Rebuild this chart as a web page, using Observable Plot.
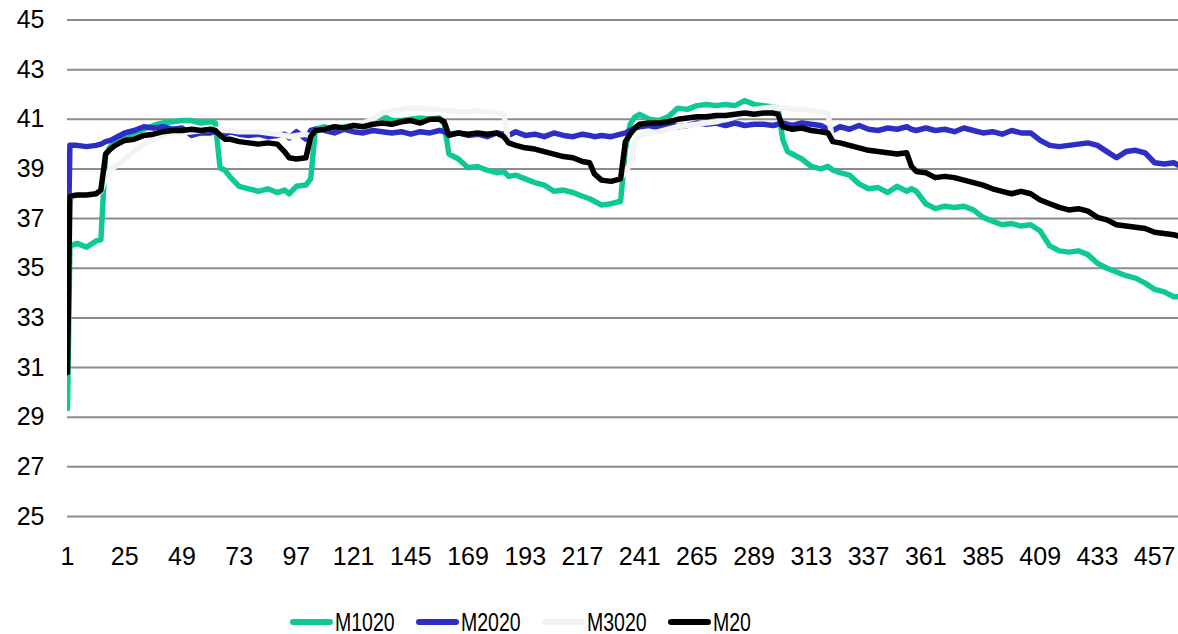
<!DOCTYPE html>
<html>
<head>
<meta charset="utf-8">
<script src="https://cdn.jsdelivr.net/npm/d3@7"></script>
<script src="https://cdn.jsdelivr.net/npm/@observablehq/plot@0.6"></script>
<style>
  body { margin: 0; background: #fff; font-family: "Liberation Sans", Arial, sans-serif; }
  #legend { display: flex; align-items: center; height: 30px; margin-top: 27px; padding-left: 290px; }
  .item { display: flex; align-items: center; margin-right: 21px; }
  .sw { width: 43px; height: 6px; border-radius: 3px; margin-right: 2px; }
  .lab { width: 60px; font-size: 25px; color: #000; white-space: nowrap; }
  .lab span { display: inline-block; transform: scaleX(0.78); transform-origin: left center; }
</style>
</head>
<body>
<div id="chart"></div>
<div id="legend"></div>
<script>
// Sample index (day) shared by all series
const days = [
  1, 2, 5, 9, 13, 15, 17, 19, 21, 25,
  29, 33, 37, 41, 45, 49, 53, 57, 61, 63,
  65, 67, 69, 73, 77, 81, 85, 89, 92, 94,
  97, 101, 103, 105, 109, 113, 117, 121, 125, 129,
  133, 137, 141, 145, 149, 153, 157, 159, 161, 165,
  169, 173, 177, 181, 184, 186, 189, 193, 197, 201,
  205, 209, 213, 217, 220, 222, 225, 229, 233, 235,
  237, 239, 241, 245, 249, 253, 257, 261, 265, 269,
  273, 277, 281, 285, 289, 293, 297, 299, 301, 303,
  305, 309, 313, 317, 320, 322, 325, 329, 333, 337,
  341, 345, 349, 353, 355, 357, 361, 365, 369, 373,
  377, 381, 385, 389, 393, 397, 401, 405, 409, 413,
  417, 421, 425, 429, 433, 437, 441, 445, 449, 453,
  457, 461, 465, 467
];

const m1020 = [
  29.35, 35.9, 36.0, 35.85, 36.1, 36.15, 39.6, 39.9, 40.05, 40.3,
  40.45, 40.6, 40.75, 40.85, 40.9, 40.95, 40.95, 40.85, 40.9, 40.85,
  39.05, 38.95, 38.7, 38.3, 38.2, 38.1, 38.2, 38.05, 38.15, 38.0,
  38.3, 38.35, 38.6, 40.6, 40.7, 40.55, 40.7, 40.75, 40.8, 41.0,
  41.15, 40.95, 40.95, 41.0, 41.05, 41.0, 41.05, 40.8, 39.6, 39.4,
  39.05, 39.1, 38.95, 38.85, 38.9, 38.7, 38.75, 38.6, 38.45, 38.35,
  38.1, 38.15, 38.05, 37.9, 37.8, 37.7, 37.55, 37.6, 37.7, 39.8,
  40.8, 41.1, 41.2, 41.0, 40.95, 41.1, 41.45, 41.4, 41.55, 41.6,
  41.55, 41.6, 41.55, 41.75, 41.6, 41.55, 41.5, 41.45, 40.2, 39.7,
  39.6, 39.4, 39.1, 39.0, 39.1, 38.95, 38.85, 38.75, 38.4, 38.2,
  38.25, 38.05, 38.3, 38.1, 38.2, 38.1, 37.6, 37.4, 37.5, 37.45,
  37.5, 37.35, 37.05, 36.9, 36.75, 36.8, 36.7, 36.75, 36.5, 35.9,
  35.7, 35.65, 35.7, 35.55, 35.2, 35.0, 34.85, 34.7, 34.6, 34.4,
  34.15, 34.05, 33.85, 33.85
];

const m2020 = [
  34.0, 39.95, 39.95, 39.9, 39.95, 40.0, 40.1, 40.15, 40.25, 40.45,
  40.55, 40.7, 40.65, 40.7, 40.6, 40.65, 40.35, 40.45, 40.45, 40.5,
  40.45, 40.4, 40.5, 40.4, 40.35, 40.4, 40.3, 40.35, 40.4, 40.25,
  40.5, 40.2, 40.55, 40.6, 40.55, 40.45, 40.6, 40.5, 40.45, 40.55,
  40.5, 40.45, 40.5, 40.4, 40.5, 40.45, 40.55, 40.5, 40.4, 40.45,
  40.35, 40.4, 40.3, 40.45, 40.4, 40.35, 40.5, 40.35, 40.4, 40.3,
  40.45, 40.35, 40.3, 40.4, 40.35, 40.3, 40.35, 40.3, 40.4, 40.45,
  40.55, 40.65, 40.7, 40.75, 40.65, 40.8, 40.7, 40.75, 40.85, 40.8,
  40.85, 40.75, 40.85, 40.75, 40.8, 40.8, 40.75, 40.8, 40.85, 40.8,
  40.75, 40.85, 40.8, 40.75, 40.6, 40.55, 40.7, 40.6, 40.75, 40.6,
  40.55, 40.65, 40.6, 40.7, 40.6, 40.55, 40.65, 40.55, 40.6, 40.5,
  40.65, 40.55, 40.45, 40.5, 40.4, 40.55, 40.45, 40.45, 40.15, 39.95,
  39.9, 39.95, 40.0, 40.05, 39.95, 39.7, 39.45, 39.7, 39.75, 39.65,
  39.25, 39.2, 39.25, 39.15
];

const m3020 = [
  33.0, 37.9, 37.95, 37.95, 38.0, 38.1, 38.6, 39.0, 39.1, 39.4,
  39.7, 40.0, 40.2, 40.35, 40.45, 40.45, 40.5, 40.55, 40.6, 40.6,
  40.6, 40.55, 40.55, 40.5, 40.5, 40.5, 40.45, 40.4, 40.35, 40.3,
  40.35, 40.4, 40.3, 40.55, 40.6, 40.7, 40.65, 40.75, 40.85, 41.0,
  41.25, 41.35, 41.4, 41.45, 41.45, 41.4, 41.4, 41.35, 41.35, 41.3,
  41.3, 41.35, 41.3, 41.25, 41.2, 40.05, 39.95, 39.85, 39.8, 39.7,
  39.6, 39.5, 39.45, 39.3, 39.25, 38.8, 38.55, 38.5, 38.6, 38.9,
  39.2, 40.1, 40.35, 40.45, 40.5, 40.6, 40.7, 40.75, 40.8, 40.85,
  40.9, 41.0, 41.1, 41.25, 41.4, 41.45, 41.5, 41.45, 41.45, 41.45,
  41.4, 41.4, 41.35, 41.3, 41.25, 40.1, 40.05, 39.95, 39.85, 39.75,
  39.7, 39.65, 39.6, 39.65, 39.1, 38.9, 38.85, 38.65, 38.7, 38.65,
  38.55, 38.45, 38.35, 38.2, 38.1, 38.0, 38.1, 38.0, 37.75, 37.6,
  37.45, 37.35, 37.4, 37.3, 37.05, 36.95, 36.75, 36.7, 36.65, 36.6,
  36.45, 36.4, 36.35, 36.3
];

const m20 = [
  30.8, 37.9, 37.95, 37.95, 38.0, 38.15, 39.6, 39.8, 39.95, 40.15,
  40.2, 40.35, 40.4, 40.5, 40.55, 40.55, 40.6, 40.55, 40.6, 40.55,
  40.35, 40.2, 40.2, 40.1, 40.05, 40.0, 40.05, 40.0, 39.7, 39.45,
  39.4, 39.45, 40.3, 40.55, 40.6, 40.7, 40.65, 40.75, 40.7, 40.8,
  40.85, 40.8, 40.9, 40.95, 40.85, 41.0, 41.0, 40.9, 40.35, 40.45,
  40.4, 40.45, 40.4, 40.45, 40.3, 40.05, 39.95, 39.85, 39.8, 39.7,
  39.6, 39.5, 39.45, 39.3, 39.25, 38.8, 38.55, 38.5, 38.6, 40.1,
  40.4, 40.65, 40.8, 40.85, 40.85, 40.9, 41.0, 41.05, 41.1, 41.1,
  41.15, 41.15, 41.2, 41.25, 41.2, 41.25, 41.25, 41.2, 40.7, 40.65,
  40.6, 40.65, 40.55, 40.5, 40.45, 40.1, 40.05, 39.95, 39.85, 39.75,
  39.7, 39.65, 39.6, 39.65, 39.1, 38.9, 38.85, 38.65, 38.7, 38.65,
  38.55, 38.45, 38.35, 38.2, 38.1, 38.0, 38.1, 38.0, 37.75, 37.6,
  37.45, 37.35, 37.4, 37.3, 37.05, 36.95, 36.75, 36.7, 36.65, 36.6,
  36.45, 36.4, 36.35, 36.3
];

const seriesNames = ["M1020", "M2020", "M3020", "M20"];
const seriesColors = ["#0fc995", "#2e2ec7", "#f3f3f3", "#000000"];
const seriesValues = [m1020, m2020, m3020, m20];

const xTicks = [1, 25, 49, 73, 97, 121, 145, 169, 193, 217, 241, 265, 289, 313, 337, 361, 385, 409, 433, 457];
const yTicks = [25, 27, 29, 31, 33, 35, 37, 39, 41, 43, 45];

const rows = seriesNames.flatMap((name, s) =>
  days.map((d, i) => ({ day: d, value: seriesValues[s][i], series: name }))
);

const chart = Plot.plot({
  width: 1178,
  height: 580,
  marginTop: 19.5,
  marginBottom: 64,
  marginLeft: 67,
  marginRight: 0,
  style: { fontFamily: "'Liberation Sans', Arial, sans-serif", fontSize: "25px", color: "#000", background: "#fff" },
  x: { domain: [1, 467], ticks: xTicks, tickSize: 0, tickPadding: 31, tickFormat: d => String(d), label: null },
  y: { domain: [25, 45], ticks: yTicks, tickSize: 0, tickPadding: 23, tickFormat: d => String(d), label: null },
  color: { domain: seriesNames, range: seriesColors },
  marks: [
    Plot.gridY(yTicks, { stroke: "#8c8c8c", strokeOpacity: 1, strokeWidth: 2 }),
    Plot.line(rows, {
      x: "day", y: "value", z: "series", stroke: "series",
      strokeWidth: 5.5, strokeLinejoin: "round", strokeLinecap: "round", clip: true
    })
  ]
});
document.getElementById("chart").append(chart);

// Legend below the plot
const legend = d3.select("#legend");
seriesNames.forEach((name, i) => {
  const item = legend.append("div").attr("class", "item");
  item.append("div").attr("class", "sw").style("background", seriesColors[i]);
  item.append("div").attr("class", "lab").append("span").text(name);
});
</script>
</body>
</html>
